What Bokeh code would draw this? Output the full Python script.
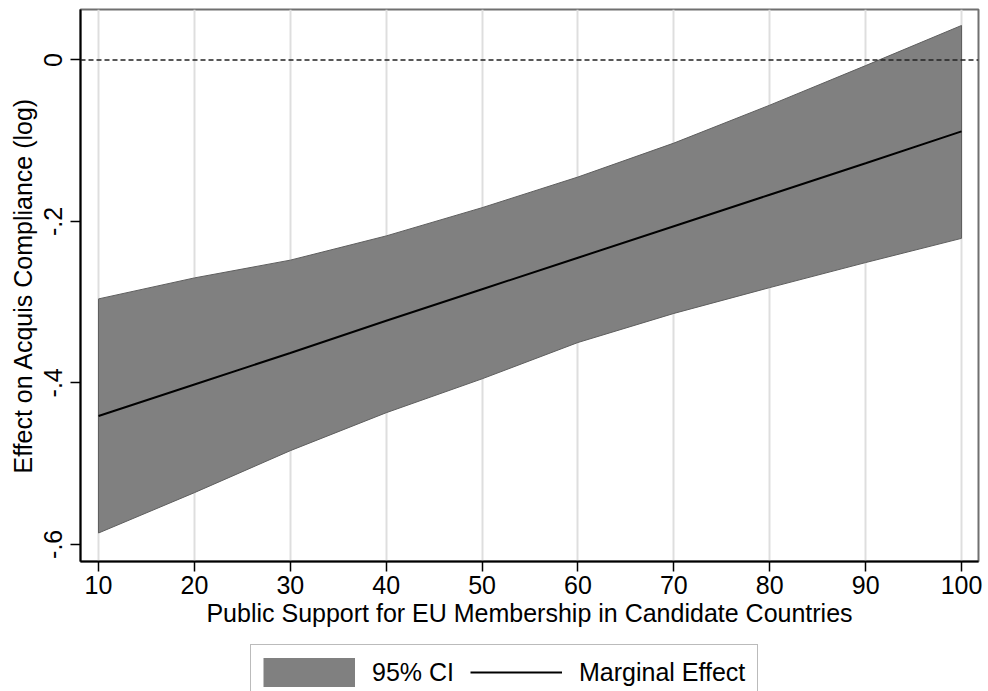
from bokeh.plotting import figure
from bokeh.layouts import column
from bokeh.models import FixedTicker, Span, Legend, LegendItem, Range1d
from bokeh.embed import file_html
from bokeh.resources import INLINE

support = [10, 20, 30, 40, 50, 60, 70, 80, 90, 100]
effect = [-0.441, -0.402, -0.363, -0.323, -0.284, -0.245, -0.206, -0.167, -0.128, -0.0885]
ci_upper = [-0.296, -0.270, -0.248, -0.218, -0.183, -0.145, -0.103, -0.056, -0.007, 0.0427]
ci_lower = [-0.586, -0.536, -0.484, -0.437, -0.395, -0.350, -0.314, -0.282, -0.251, -0.221]
x_ticks = [10, 20, 30, 40, 50, 60, 70, 80, 90, 100]
y_ticks = [-0.6, -0.4, -0.2, 0]
y_tick_labels = {-0.6: "-.6", -0.4: "-.4", -0.2: "-.2", 0: "0"}

FONT = "Liberation Sans"
FS = "25px"
CI_FILL = "#808080"
CI_LINE = "#5e5e5e"

p = figure(width=988, height=640, output_backend="svg", toolbar_location=None,
           x_range=Range1d(8.12, 101.77), y_range=Range1d(-0.6213, 0.0625),
           min_border_left=80, min_border_right=10, min_border_top=9, min_border_bottom=79)

xs = support + support[::-1]
ys = ci_upper + ci_lower[::-1]
p.patch(xs, ys, fill_color=CI_FILL, line_color=CI_LINE, line_width=1)
p.line(support, effect, line_color="black", line_width=2)

p.add_layout(Span(location=0, dimension="width", line_color="#222222", line_dash="5 3", line_width=1.6))

p.xaxis.ticker = FixedTicker(ticks=x_ticks)
p.yaxis.ticker = FixedTicker(ticks=y_ticks)
p.yaxis.major_label_overrides = y_tick_labels
p.yaxis.major_label_orientation = "vertical"

p.xaxis.axis_label = "Public Support for EU Membership in Candidate Countries"
p.yaxis.axis_label = "Effect on Acquis Compliance (log)"

for ax in (p.xaxis[0], p.yaxis[0]):
    ax.axis_label_text_font = FONT
    ax.axis_label_text_font_style = "normal"
    ax.axis_label_text_font_size = FS
    ax.axis_label_text_color = "black"
    ax.major_label_text_font = FONT
    ax.major_label_text_font_size = FS
    ax.major_label_text_color = "black"
    ax.axis_line_color = "black"
    ax.axis_line_width = 2
    ax.major_tick_line_color = "black"
    ax.major_tick_line_width = 1.5
    ax.major_tick_out = 10
    ax.major_tick_in = 0
    ax.minor_tick_line_color = None

p.xaxis.major_label_standoff = 4
p.xaxis.axis_label_standoff = 2
p.yaxis.major_label_standoff = 8
p.yaxis.axis_label_standoff = 5

p.xgrid.ticker = FixedTicker(ticks=x_ticks)
p.xgrid.grid_line_color = "#dedede"
p.xgrid.grid_line_width = 2
p.ygrid.grid_line_color = None

p.outline_line_color = "#707070"
p.outline_line_width = 2
p.background_fill_color = "white"
p.border_fill_color = "white"

# legend strip below the chart (its frame is aligned with the chart's frame)
lg = figure(width=988, height=51, output_backend="svg", toolbar_location=None,
            x_range=Range1d(200, 300), y_range=Range1d(200, 300),
            min_border_left=0, min_border_right=0, min_border_top=0, min_border_bottom=0)
lg.axis.visible = False
lg.grid.visible = False
lg.outline_line_color = None
# same series drawn out of this strip's view, only for the legend swatches
ci_r = lg.line(support, ci_upper, line_color=CI_FILL, line_width=29, line_cap="butt")
me_r = lg.line(support, effect, line_color="black", line_width=2)

legend = Legend(items=[LegendItem(label="95% CI", renderers=[ci_r]),
                       LegendItem(label="Marginal Effect", renderers=[me_r])],
                orientation="horizontal", location=(170, -9))
legend.label_text_font = FONT
legend.label_text_font_size = FS
legend.label_text_color = "black"
legend.glyph_width = 92
legend.glyph_height = 30
legend.label_standoff = 17
legend.spacing = 16
legend.padding = 12
legend.margin = 0
legend.border_line_color = "#777777"
legend.border_line_width = 1.5
legend.background_fill_alpha = 1
lg.add_layout(legend, "center")

layout = column(p, lg, spacing=0)
open("out.html", "w").write(file_html(layout, INLINE))
